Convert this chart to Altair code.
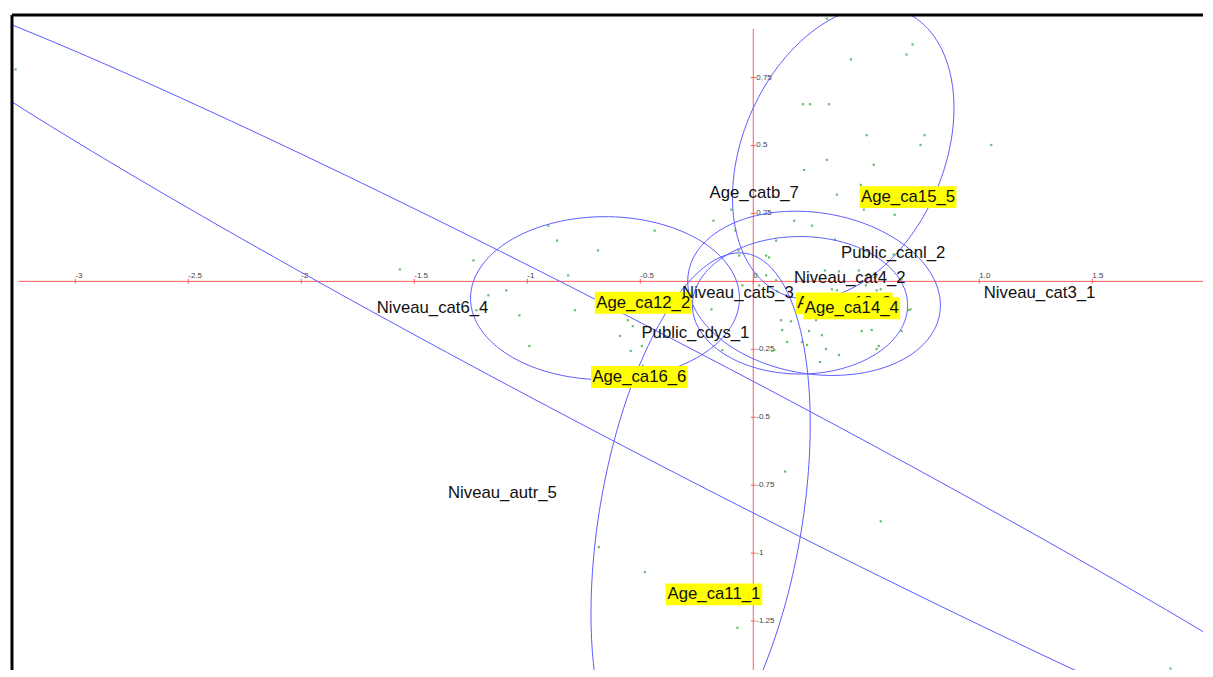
import numpy as np
import pandas as pd
import altair as alt

# ---------------- data ----------------
X_DOM = [-3.28, 1.99]
Y_DOM = [-1.43, 0.98]

x_ticks = [-3, -2.5, -2, -1.5, -1, -0.5, 0, 0.5, 1.0, 1.5, 2.0]
x_tick_labels = ["-3", "-2.5", "-2", "-1.5", "-1", "-0.5", "0", "0.5", "1.0", "1.5", "2.0"]
y_ticks = [0.75, 0.5, 0.25, -0.25, -0.5, -0.75, -1, -1.25]
y_tick_labels = ["0.75", "0.5", "0.25", "-0.25", "-0.5", "-0.75", "-1", "-1.25"]

axis_x_start, axis_x_end = -3.25, 2.0
axis_y_start, axis_y_end = 0.93, -1.5

# individuals (green dots)
pt_x = [0.326, 0.705, 0.678, 0.432, 0.220, 0.251, 0.335, 0.502, 0.758, 0.740, 1.053,
        0.326, 0.225, 0.533, 0.476, 0.370, 0.489, 0.626, 0.260, 0.361, 0.621, 0.317,
        0.467, 0.370, 0.498, 0.546, -0.097, -0.176, 0.181, 0.101, -0.062, 0.057, 0.511,
        0.379, 0.101, 0.348, 0.564, -0.185, 0.123, 0.167, 0.278, 0.696, 0.247, 0.304,
        0.524, 0.656, 0.480, 0.555, 0.093, 0.238, 0.379, -0.137, 0.295, -0.079, -0.066,
        -0.907, -0.868, -0.687, -0.436, -1.238, -0.819, -1.093, -1.172, 0.004, 0.026,
        -0.789, -1.035, -0.555, -0.533, -0.590, -0.991, -0.542, -0.493, -0.489, -1.225,
        -1.564, 0.141, -0.683, -0.480, -0.070, 0.564, 1.846, -3.264, 0.070, 0.057,
        -0.048, 0.106, 0.656, 0.511, 0.687, 0.128, 0.150, 0.216, 0.322, 0.546, 0.084]
pt_y = [0.967, 0.872, 0.835, 0.817, 0.652, 0.652, 0.652, 0.538, 0.538, 0.502, 0.502,
        0.447, 0.410, 0.429, 0.355, 0.319, 0.264, 0.245, 0.205, 0.154, 0.099, 0.040,
        0.040, -0.033, -0.015, -0.033, 0.264, 0.223, 0.223, 0.150, 0.095, 0.095, 0.099,
        0.037, 0.004, -0.029, -0.029, -0.103, -0.143, -0.147, -0.143, -0.103, -0.183, -0.198,
        -0.179, -0.183, -0.183, -0.238, -0.253, -0.234, -0.271, -0.253, -0.297, 0.187, 0.114,
        0.205, 0.150, 0.114, 0.187, 0.077, 0.022, -0.033, -0.051, 0.022, -0.015,
        -0.106, -0.125, -0.143, -0.165, -0.201, -0.238, -0.256, -0.238, -0.311, -0.106,
        0.044, -0.700, -0.978, -1.070, -1.275, -0.883, -1.425, 0.780, 0.088, 0.022,
        -0.015, -0.037, 0.007, -0.106, -0.106, -0.179, -0.223, -0.223, -0.249, -0.249, -0.256]

# category labels
lab_text = ["Age_ca13_3", "Age_catb_7", "Age_ca15_5", "Public_canl_2", "Niveau_cat4_2",
            "Niveau_cat3_1", "Niveau_cat6_4", "Age_ca12_2", "Niveau_cat5_3", "Age_ca14_4",
            "Public_cdys_1", "Age_ca16_6", "Niveau_autr_5", "Age_ca11_1"]
lab_x = [0.403, 0.004, 0.685, 0.619, 0.427, 1.267, -1.419, -0.487, -0.068, 0.436,
         -0.256, -0.504, -1.110, -0.174]
lab_y = [-0.081, 0.326, 0.310, 0.106, 0.011, -0.044, -0.099, -0.079, -0.044, -0.099,
         -0.190, -0.352, -0.780, -1.152]
lab_hl = [1, 0, 1, 0, 0, 0, 0, 1, 0, 1, 0, 1, 0, 1]
lab_z = [0, 1, 1, 1, 1, 1, 1, 1, 1, 1, 1, 1, 1, 1]

# confidence ellipses: centre and two conjugate semi-diameters
ell_name = ["Age_ca16_6", "Age_ca15_5", "Age_ca11_1", "Age_ca12_2", "Age_ca13_3", "Age_ca14_4"]
ell_cx = [-0.414, 0.398, -0.233, -0.656, 0.269, 0.207]
ell_cy = [-0.432, 0.473, -0.875, -0.062, -0.044, -0.088]
ell_ux = [3.52, 0.490, 0.485, 0.595, 0.559, 0.476]
ell_uy = [-1.524, 0.165, 0.348, 0.0, -0.044, 0.0]
ell_vx = [0.12, 0.0, 0.0, 0.0, 0.0, 0.0]
ell_vy = [0.192, 0.513, -0.916, 0.300, 0.299, 0.253]

# ---------------- build tables ----------------
W, H = 1195, 657
RED = "#ff5a5a"
BLUE = "#5a5aff"

xs = alt.Scale(domain=X_DOM, nice=False, zero=False)
ys = alt.Scale(domain=Y_DOM, nice=False, zero=False)


def X(f):
    return alt.X(f, type="quantitative", scale=xs, axis=None)


def Y(f):
    return alt.Y(f, type="quantitative", scale=ys, axis=None)


t = np.linspace(0, 2 * np.pi, 241)
rows = []
for k, n in enumerate(ell_name):
    for i, tt in enumerate(t):
        rows.append({
            "name": n, "i": i,
            "x": ell_cx[k] + ell_ux[k] * np.cos(tt) + ell_vx[k] * np.sin(tt),
            "y": ell_cy[k] + ell_uy[k] * np.cos(tt) + ell_vy[k] * np.sin(tt),
        })
ell_df = pd.DataFrame(rows)

axes_df = pd.DataFrame({"x": [axis_x_start, 0], "x2": [axis_x_end, 0],
                        "y": [0, axis_y_start], "y2": [0, axis_y_end]})
xt_df = pd.DataFrame({"x": x_ticks, "y": [0] * len(x_ticks), "lab": x_tick_labels})
yt_df = pd.DataFrame({"y": y_ticks, "x": [0] * len(y_ticks), "lab": y_tick_labels})
pt_df = pd.DataFrame({"x": pt_x, "y": pt_y})
lab_df = pd.DataFrame({"text": lab_text, "x": lab_x, "y": lab_y, "hl": lab_hl, "z": lab_z})
one = pd.DataFrame({"a": [0]})

BOX = "M-1,-0.2268L1,-0.2268L1,0.2268L-1,0.2268Z"

frame_left = alt.Chart(one).mark_rule(color="black", strokeWidth=3).encode(
    x=alt.value(0), y=alt.value(0), y2=alt.value("height"))
frame_top = alt.Chart(one).mark_rule(color="black", strokeWidth=3).encode(
    y=alt.value(0), x=alt.value(0), x2=alt.value("width"))

axes = alt.Chart(axes_df).mark_rule(color=RED, strokeWidth=1, clip=True).encode(
    x=X("x"), x2="x2", y=Y("y"), y2="y2")
xticks = alt.Chart(xt_df).mark_tick(orient="vertical", size=5, thickness=1, color=RED,
                                    opacity=1, clip=True).encode(x=X("x"), y=Y("y"))
yticks = alt.Chart(yt_df).mark_tick(orient="horizontal", size=5, thickness=1, color=RED,
                                    opacity=1, clip=True).encode(x=X("x"), y=Y("y"))
xlabels = alt.Chart(xt_df).mark_text(align="left", baseline="bottom", dy=-1, fontSize=8,
                                     font="Liberation Sans", color="#444", clip=True).encode(
    x=X("x"), y=Y("y"), text="lab:N")
ylabels = alt.Chart(yt_df).mark_text(align="left", baseline="middle", dx=3, fontSize=8,
                                     font="Liberation Sans", color="#444", clip=True).encode(
    x=X("x"), y=Y("y"), text="lab:N")

points = alt.Chart(pt_df).mark_square(size=5, color="#5cb85c", opacity=0.9, clip=True).encode(
    x=X("x"), y=Y("y"))

ellipses = alt.Chart(ell_df).mark_line(color=BLUE, strokeWidth=1, clip=True).encode(
    x=X("x"), y=Y("y"), detail="name:N", order="i:Q")


def label_layers(z):
    base = alt.Chart(lab_df).transform_filter(alt.datum.z == z)
    boxes = base.transform_filter(alt.datum.hl == 1).mark_point(
        shape=BOX, size=9409, filled=True, color="#ffff00", opacity=1, strokeWidth=0
    ).encode(x=X("x"), y=Y("y"))
    texts = base.mark_text(fontSize=16.8, font="Liberation Sans", color="#111",
                           align="center", baseline="middle").encode(
        x=X("x"), y=Y("y"), text="text:N")
    return [boxes, texts]


chart = alt.layer(
    axes, xticks, yticks, xlabels, ylabels, points, ellipses,
    *label_layers(0), *label_layers(1),
    frame_left, frame_top,
).properties(
    width=W, height=H,
    padding={"left": 2, "top": 4, "right": 0, "bottom": 0},
).configure_view(stroke=None)

chart.save("out.html", embed_options={"renderer": "svg", "actions": False})
